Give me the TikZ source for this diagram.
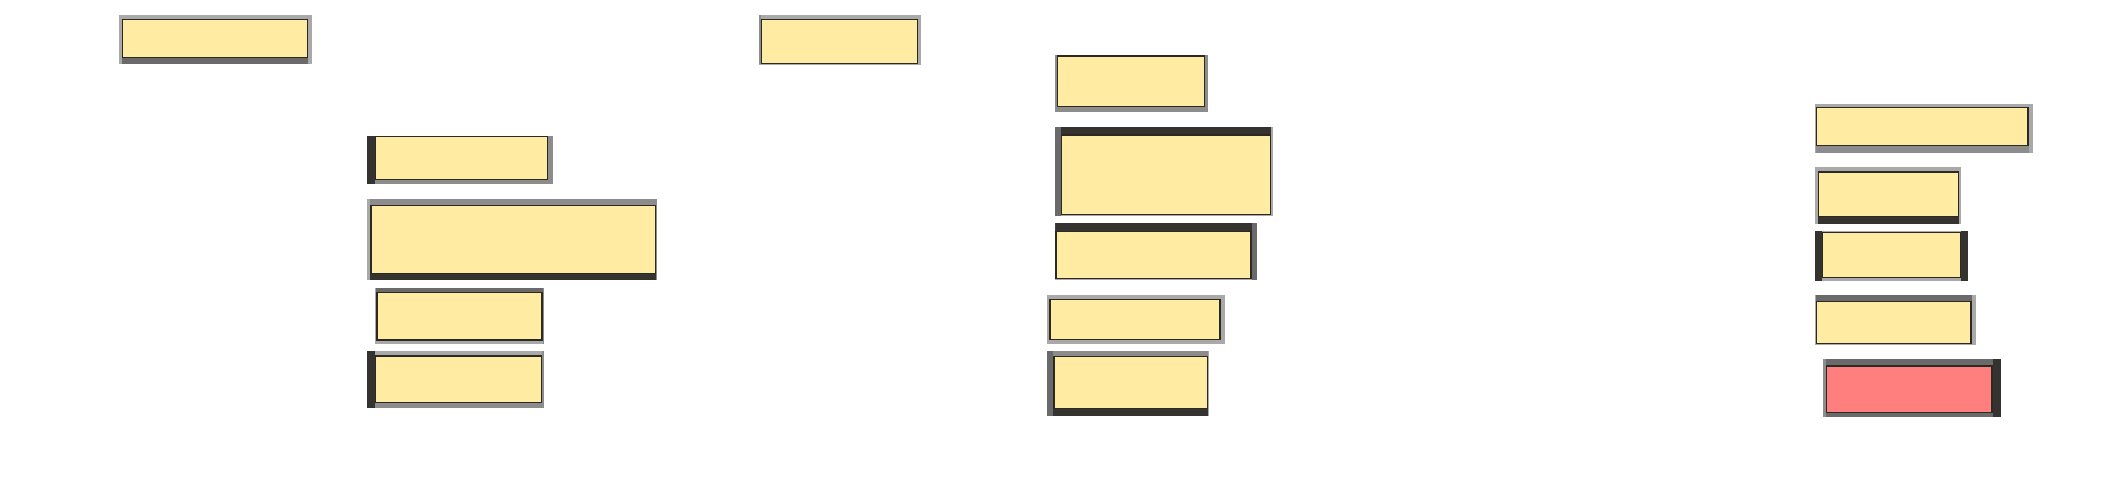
\documentclass[tikz,border=0pt]{standalone}
\usetikzlibrary{calc,fit,backgrounds}
\definecolor{notefill}{HTML}{FFEBA1}
\definecolor{alarmfill}{HTML}{FF7F7F}
\definecolor{noteline}{HTML}{2B2A22}
\definecolor{rimlt}{HTML}{A9A9A9}
\definecolor{rimmd}{HTML}{8C8C8C}
\definecolor{rimgy}{HTML}{6A6A6A}
\definecolor{rimdk}{HTML}{353330}
\tikzstyle{note}=[rectangle,draw=noteline,fill=notefill,
                  line width=0.4pt,inner sep=0pt]
\tikzstyle{alarm}=[note,fill=alarmfill]

\begin{document}
\begin{tikzpicture}[x=0.1mm,y=-0.1mm]
    \useasboundingbox (0,0) rectangle (2118,488);
    % node; top, bottom, left, right: width and colour of the rim
    \newcommand{\rim}[9]{%
      \begin{pgfonlayer}{background}
      \fill[#3] ($(#1.north west)+(-#6,-#2)$) rectangle ($(#1.north east)+(#8,0)$);
      \fill[#5] ($(#1.south west)+(-#6,0)$) rectangle ($(#1.south east)+(#8,#4)$);
      \fill[#7] ($(#1.north west)+(-#6,-#2)$) rectangle ($(#1.south west)+(0,#4)$);
      \fill[#9] ($(#1.north east)+(0,-#2)$) rectangle ($(#1.south east)+(#8,#4)$);
      \end{pgfonlayer}}
    % headers
    \node (h1) [note,fit={(122.3,19.3) (307.3,57.3)}]{};
    \node (h2) [note,fit={(761.3,19.3) (917.3,63.3)}]{};
    % left column
    \node (p1) [note,fit={(375.3,136.7) (547.7,179.3)}]{};
    \node (p2) [note,fit={(371.0,205.3) (655.3,273.3)}]{};
    \node (p3) [note,fit={(377.0,292.7) (542.0,340.0)}]{};
    \node (p4) [note,fit={(375.3,356.0) (541.7,402.7)}]{};
    % middle column
    \node (q1) [note,fit={(1057.3,56.0) (1204.7,106.7)}]{};
    \node (q2) [note,fit={(1061.3,135.0) (1270.7,214.3)}]{};
    \node (q3) [note,fit={(1056.0,231.3) (1251.0,278.7)}]{};
    \node (q4) [note,fit={(1050.0,299.7) (1220.0,339.3)}]{};
    \node (q5) [note,fit={(1054.0,356.7) (1207.3,408.3)}]{};
    % right column
    \node (s1) [note,fit={(1816.7,107.7) (2028.0,145.3)}]{};
    \node (s2) [note,fit={(1818.7,172.0) (1958.7,216.7)}]{};
    \node (s3) [note,fit={(1822.7,232.7) (1960.7,277.3)}]{};
    \node (s4) [note,fit={(1816.7,301.3) (1971.0,343.3)}]{};
    \node (s5) [alarm,fit={(1826.7,366.0) (1992.0,412.3)}]{};
    % rims
    \rim{h1}{3.3}{rimlt}{6.4}{rimgy}{2.3}{rimlt}{4.4}{rimlt}
    \rim{h2}{3.3}{rimlt}{0.4}{rimlt}{1.3}{rimmd}{2.7}{rimlt}
    \rim{p1}{0}{rimlt}{4.3}{rimmd}{7.3}{rimdk}{4.3}{rimmd}
    \rim{p2}{5.3}{rimmd}{6.3}{rimdk}{3}{rimlt}{0.7}{rimmd}
    \rim{p3}{4.3}{rimgy}{3.3}{rimlt}{1}{rimlt}{1.7}{rimmd}
    \rim{p4}{4}{rimlt}{4.7}{rimmd}{7.3}{rimdk}{2}{rimmd}
    \rim{q1}{0}{rimlt}{5}{rimmd}{1.3}{rimmd}{3}{rimmd}
    \rim{q2}{7}{rimdk}{1.4}{rimlt}{5.3}{rimgy}{1.3}{rimlt}
    \rim{q3}{7.7}{rimdk}{1}{rimlt}{0}{rimlt}{5}{rimgy}
    \rim{q4}{3.7}{rimlt}{4.3}{rimlt}{2}{rimlt}{4}{rimlt}
    \rim{q5}{4.7}{rimmd}{7.3}{rimdk}{6}{rimgy}{0.4}{rimlt}
    \rim{s1}{3.3}{rimlt}{6.7}{rimmd}{0.7}{rimlt}{4}{rimlt}
    \rim{s2}{4}{rimlt}{7}{rimdk}{2.7}{rimlt}{1.3}{rimlt}
    \rim{s3}{0.7}{rimlt}{2.7}{rimlt}{6.7}{rimdk}{7}{rimdk}
    \rim{s4}{5.3}{rimgy}{0.7}{rimlt}{0.7}{rimlt}{4.7}{rimlt}
    \rim{s5}{6}{rimgy}{3.7}{rimgy}{2.7}{rimmd}{8}{rimdk}
\end{tikzpicture}
\end{document}
